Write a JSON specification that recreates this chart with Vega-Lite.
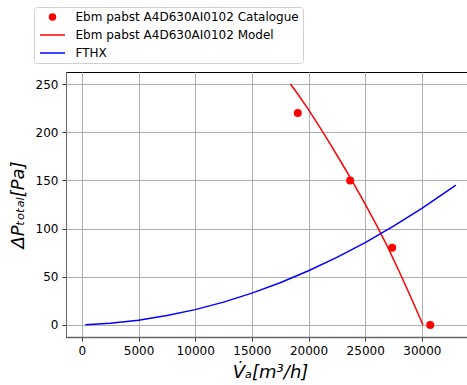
{
  "$schema": "https://vega.github.io/schema/vega-lite/v6.json",
  "width": 408,
  "height": 265,
  "autosize": {"type": "none"},
  "padding": {"left": 66, "top": 72, "right": 0, "bottom": 48},
  "background": "white",
  "config": {
    "view": {"stroke": "black", "strokeWidth": 1},
    "font": "DejaVu Sans",
    "legend": {"strokeColor": "#d0d0d0", "fillColor": "white", "cornerRadius": 3},
    "axis": {
      "labelFont": "DejaVu Sans",
      "labelFontSize": 12,
      "labelColor": "black",
      "titleFont": "DejaVu Sans",
      "titleFontSize": 18,
      "titleFontWeight": "normal",
      "titleFontStyle": "italic",
      "titleColor": "black",
      "gridColor": "#b0b0b0",
      "gridWidth": 1,
      "gridOpacity": 1,
      "tickColor": "#333333",
      "tickSize": 4,
      "tickWidth": 1,
      "domainColor": "#666666",
      "domainWidth": 1
    }
  },
  "datasets": {
    "model": [
      {"flow": 18400, "dp": 250, "series": "Ebm pabst A4D630AI0102 Model"},
      {"flow": 19000, "dp": 240.5, "series": "Ebm pabst A4D630AI0102 Model"},
      {"flow": 20000, "dp": 223.5, "series": "Ebm pabst A4D630AI0102 Model"},
      {"flow": 21000, "dp": 205, "series": "Ebm pabst A4D630AI0102 Model"},
      {"flow": 22000, "dp": 186, "series": "Ebm pabst A4D630AI0102 Model"},
      {"flow": 23000, "dp": 166.5, "series": "Ebm pabst A4D630AI0102 Model"},
      {"flow": 24000, "dp": 146.5, "series": "Ebm pabst A4D630AI0102 Model"},
      {"flow": 25000, "dp": 125.5, "series": "Ebm pabst A4D630AI0102 Model"},
      {"flow": 26000, "dp": 103.5, "series": "Ebm pabst A4D630AI0102 Model"},
      {"flow": 27000, "dp": 80.5, "series": "Ebm pabst A4D630AI0102 Model"},
      {"flow": 28000, "dp": 55.5, "series": "Ebm pabst A4D630AI0102 Model"},
      {"flow": 29000, "dp": 29.5, "series": "Ebm pabst A4D630AI0102 Model"},
      {"flow": 30100, "dp": 0, "series": "Ebm pabst A4D630AI0102 Model"}
    ],
    "fthx": [
      {"flow": 300, "dp": 0.1, "series": "FTHX"},
      {"flow": 2500, "dp": 1.7, "series": "FTHX"},
      {"flow": 5000, "dp": 4.9, "series": "FTHX"},
      {"flow": 7500, "dp": 9.7, "series": "FTHX"},
      {"flow": 10000, "dp": 15.9, "series": "FTHX"},
      {"flow": 12500, "dp": 23.7, "series": "FTHX"},
      {"flow": 15000, "dp": 33, "series": "FTHX"},
      {"flow": 17500, "dp": 43.8, "series": "FTHX"},
      {"flow": 20000, "dp": 56.3, "series": "FTHX"},
      {"flow": 22500, "dp": 70.1, "series": "FTHX"},
      {"flow": 25000, "dp": 85.5, "series": "FTHX"},
      {"flow": 27500, "dp": 102.5, "series": "FTHX"},
      {"flow": 30000, "dp": 120.9, "series": "FTHX"},
      {"flow": 33000, "dp": 145, "series": "FTHX"}
    ],
    "catalogue": [
      {"flow": 19050, "dp": 220, "series": "Ebm pabst A4D630AI0102 Catalogue"},
      {"flow": 23670, "dp": 150, "series": "Ebm pabst A4D630AI0102 Catalogue"},
      {"flow": 27380, "dp": 80, "series": "Ebm pabst A4D630AI0102 Catalogue"},
      {"flow": 30740, "dp": 0, "series": "Ebm pabst A4D630AI0102 Catalogue"}
    ]
  },
  "encoding": {
    "x": {
      "field": "flow",
      "type": "quantitative",
      "scale": {"domain": [-1400, 34600], "nice": false, "zero": false},
      "axis": {
        "values": [0, 5000, 10000, 15000, 20000, 25000, 30000],
        "format": "d",
        "grid": true,
        "title": "V̇ₐ[m³/h]",
        "labelPadding": 4,
        "titlePadding": 7,
        "domainWidth": 1.5
      }
    },
    "y": {
      "field": "dp",
      "type": "quantitative",
      "scale": {"domain": [-12.5, 262.5], "nice": false, "zero": false},
      "axis": {
        "values": [0, 50, 100, 150, 200, 250],
        "grid": true,
        "title": "ΔPₜₒₜₐₗ[Pa]",
        "labelPadding": 4,
        "titlePadding": 8
      }
    },
    "color": {
      "field": "series",
      "type": "nominal",
      "scale": {
        "domain": ["Ebm pabst A4D630AI0102 Catalogue", "Ebm pabst A4D630AI0102 Model", "FTHX"],
        "range": ["red", "red", "blue"]
      },
      "legend": {
        "orient": "none",
        "legendX": -32,
        "legendY": -65,
        "title": null,
        "strokeColor": "#d0d0d0",
        "fillColor": "white",
        "cornerRadius": 3,
        "padding": 4,
        "labelFont": "DejaVu Sans",
        "labelFontSize": 12,
        "labelColor": "black",
        "labelLimit": 0,
        "symbolSize": 289,
        "symbolStrokeWidth": 1.5,
        "symbolOffset": 8.5,
        "labelOffset": 17,
        "rowPadding": 6,
        "encode": {
          "symbols": {
            "update": {
              "shape": {"signal": "datum.value === 'Ebm pabst A4D630AI0102 Catalogue' ? 'circle' : 'stroke'"},
              "size": {"signal": "datum.value === 'Ebm pabst A4D630AI0102 Catalogue' ? 56 : 625"},
              "fill": {"signal": "datum.value === 'Ebm pabst A4D630AI0102 Catalogue' ? 'red' : 'transparent'"},
              "stroke": {"signal": "datum.value === 'FTHX' ? 'blue' : 'red'"},
              "strokeWidth": {"signal": "datum.value === 'Ebm pabst A4D630AI0102 Catalogue' ? 0 : 1.5"},
              "opacity": {"value": 1}
            }
          }
        }
      }
    }
  },
  "layer": [
    {"data": {"name": "model"}, "mark": {"type": "line", "strokeWidth": 1.5}},
    {"data": {"name": "fthx"}, "mark": {"type": "line", "strokeWidth": 1.5}},
    {"data": {"name": "catalogue"}, "mark": {"type": "point", "filled": true, "size": 64, "opacity": 1, "shape": "circle"}}
  ]
}
